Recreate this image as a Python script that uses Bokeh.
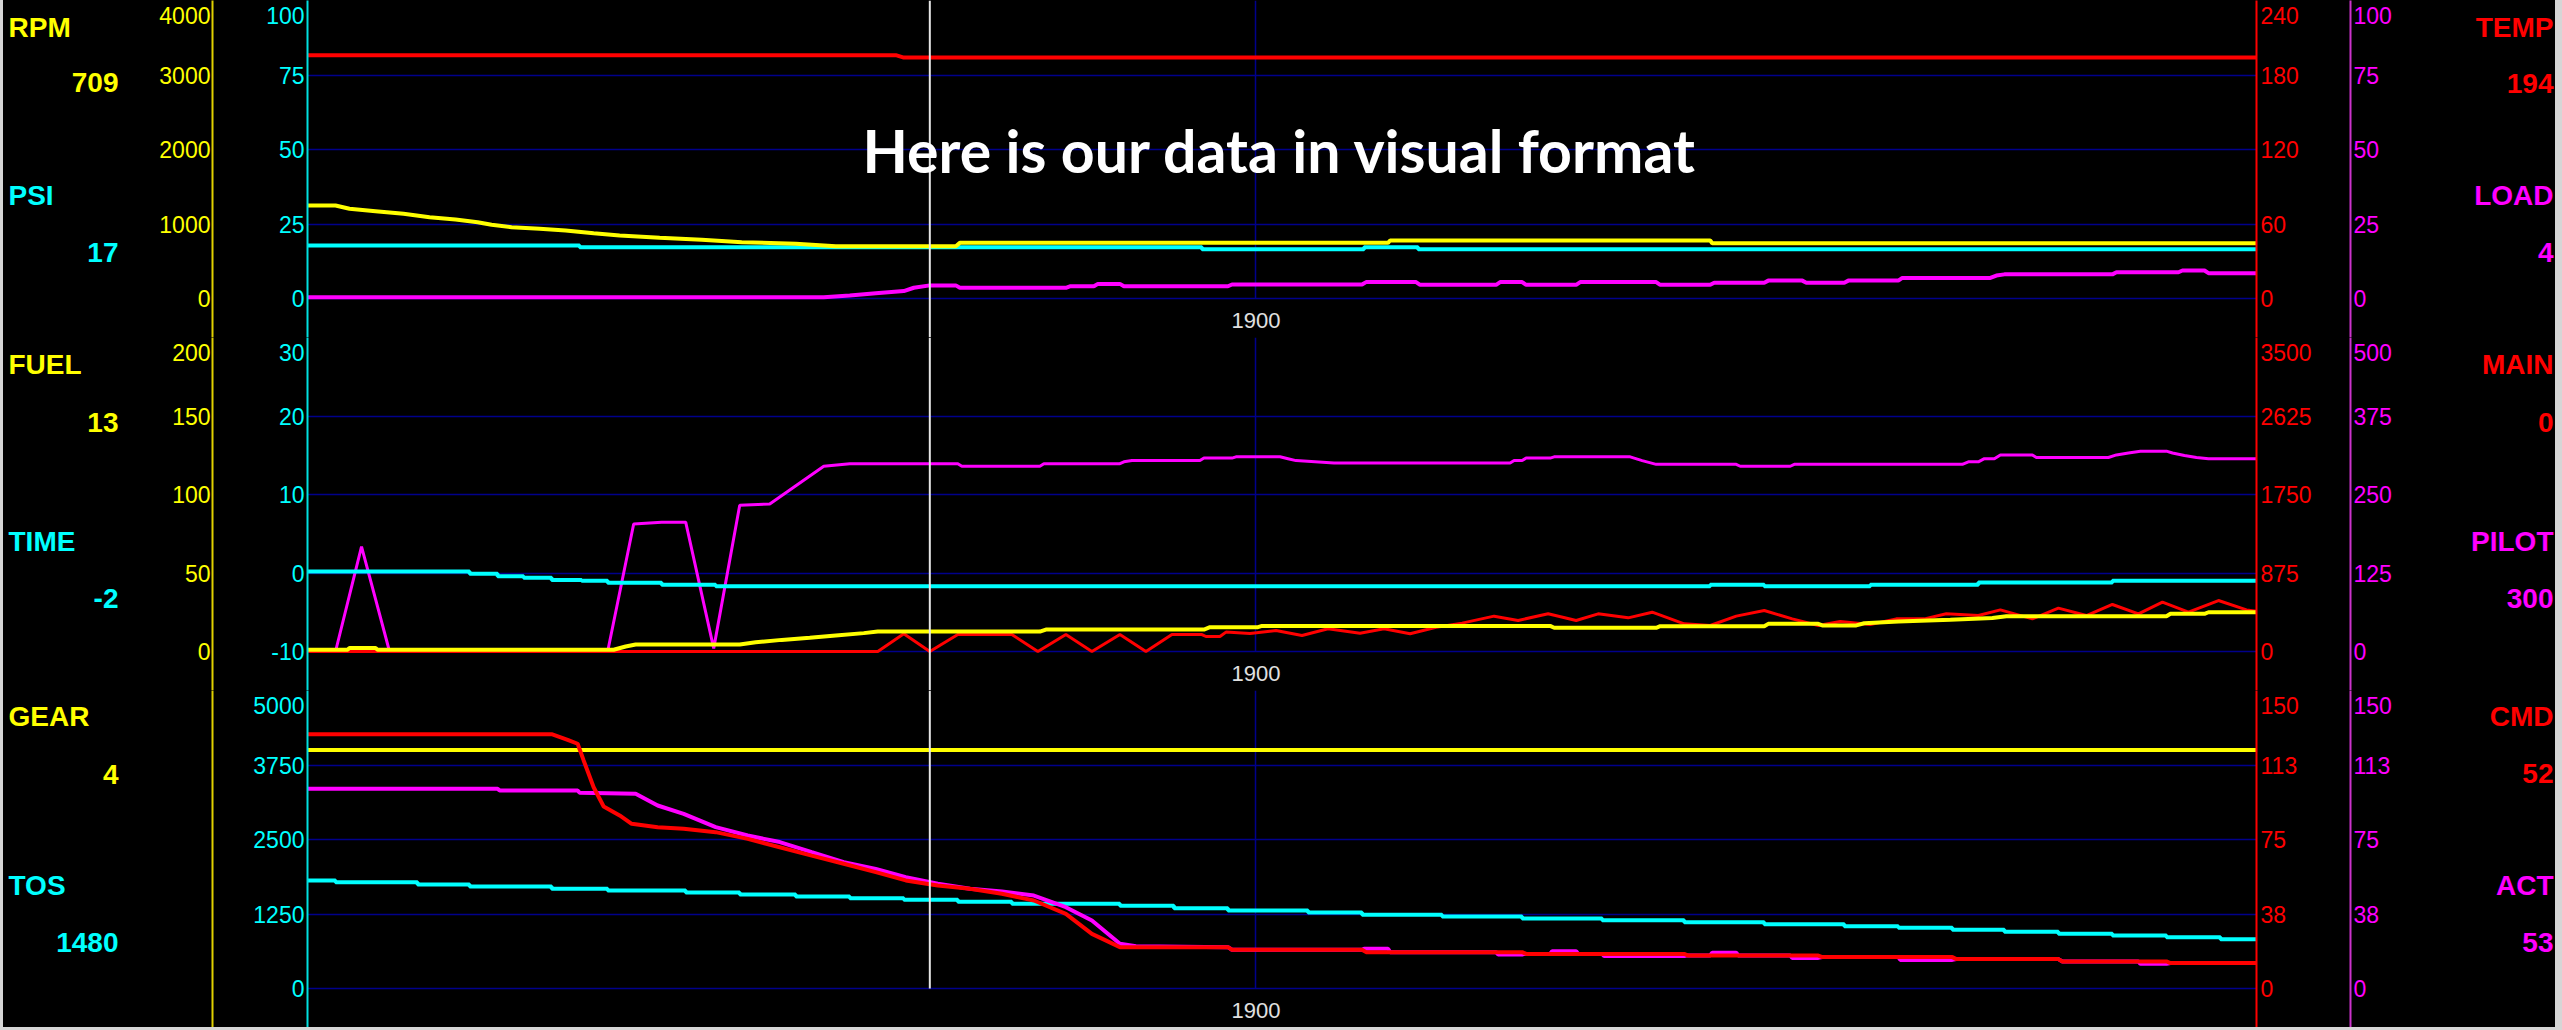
from bokeh.plotting import figure
from bokeh.models import Range1d, LinearAxis, FixedTicker, Span, Label, Grid, ColumnDataSource
from bokeh.layouts import row, column
from bokeh.embed import file_html
from bokeh.resources import INLINE
from bokeh.core.properties import value

# ------------------------------------------------------------------ data
X_START, X_END = 1426, 2400
X_TICKS = [1900]
CURSOR_X = 1737
TITLE = "Here is our data in visual format"
TITLE_X, TITLE_Y = 1912, 49.5

# panel 1 : PSI (cyan, left inner), RPM (yellow, left outer), TEMP (red), LOAD (magenta)
PSI_TICKS = [0, 25, 50, 75, 100]
PSI_LABELS = ["0", "25", "50", "75", "100"]
RPM_TICKS = [0, 1000, 2000, 3000, 4000]
RPM_LABELS = ["0", "1000", "2000", "3000", "4000"]
TEMP_TICKS = [0, 60, 120, 180, 240]
TEMP_LABELS = ["0", "60", "120", "180", "240"]
LOAD_TICKS = [0, 25, 50, 75, 100]
LOAD_LABELS = ["0", "25", "50", "75", "100"]

TEMP_X = [1426, 1720, 1724, 2400]
TEMP_Y = [196, 196, 194, 194]
RPM_X = [1426, 1440, 1447, 1460, 1474, 1487, 1500, 1511, 1518, 1528, 1542, 1555, 1569, 1582, 1602,
         1623, 1643, 1670, 1690, 1750, 1752, 1966, 1967, 2127, 2128, 2400]
RPM_Y = [1248, 1248, 1204, 1172, 1137, 1091, 1060, 1024, 989, 957, 935, 913, 877, 846, 815,
         788, 756, 734, 702, 702, 747, 747, 778, 778, 742, 742]
PSI_X = [1426, 1562, 1873, 1954, 1981, 2400]
PSI_Y = [17.8, 17.2, 16.5, 17.2, 16.5, 16.5]
LOAD_X = [1426, 1684, 1697, 1710, 1724, 1729, 1737, 1750, 1752, 1805, 1807, 1819, 1821, 1832, 1834,
          1886, 1888, 1953, 1955, 1980, 1982, 2020, 2022, 2033, 2035, 2060, 2062, 2100, 2102, 2127,
          2129, 2154, 2156, 2173, 2175, 2194, 2196, 2221, 2223, 2267, 2270, 2274, 2328, 2330, 2361,
          2363, 2374, 2376, 2400]
LOAD_Y = [0.4, 0.4, 1.0, 1.8, 2.5, 3.6, 4.4, 4.4, 3.6, 3.6, 4.1, 4.1, 4.9, 4.9, 4.1,
          4.1, 4.7, 4.7, 5.5, 5.5, 4.6, 4.6, 5.5, 5.5, 4.6, 4.6, 5.5, 5.5, 4.6, 4.6,
          5.3, 5.3, 6.0, 6.0, 5.3, 5.3, 6.0, 6.0, 6.9, 6.9, 7.7, 8.1, 8.1, 8.8, 8.8,
          9.4, 9.4, 8.5, 8.5]

# panel 2 : TIME (cyan), FUEL (yellow), MAIN (red), PILOT (magenta)
TIME_TICKS = [-10, 0, 10, 20, 30]
TIME_LABELS = ["-10", "0", "10", "20", "30"]
FUEL_TICKS = [0, 50, 100, 150, 200]
FUEL_LABELS = ["0", "50", "100", "150", "200"]
MAIN_TICKS = [0, 875, 1750, 2625, 3500]
MAIN_LABELS = ["0", "875", "1750", "2625", "3500"]
PILOT_TICKS = [0, 125, 250, 375, 500]
PILOT_LABELS = ["0", "125", "250", "375", "500"]

TIME_X = [1426, 1507, 1521, 1534, 1548, 1563, 1576, 1603, 1630, 2127, 2154, 2207, 2261, 2328, 2400]
TIME_Y = [0.2, -0.1, -0.4, -0.6, -0.9, -1.0, -1.25, -1.5, -1.7, -1.5, -1.7, -1.5, -1.2, -1.0, -1.0]
FUEL_X = [1426, 1446, 1447, 1460, 1461, 1579, 1585, 1590, 1642, 1650, 1663, 1677, 1690, 1704, 1711,
          1792, 1795, 1874, 1877, 1901, 1903, 2047, 2049, 2100, 2102, 2154, 2156, 2181, 2183, 2200,
          2204, 2221, 2247, 2268, 2275, 2355, 2357, 2374, 2376, 2400]
FUEL_Y = [1.1, 1.1, 2.3, 2.3, 1.1, 1.1, 3.2, 4.5, 4.5, 5.9, 7.4, 8.7, 10.2, 11.7, 12.7,
          12.7, 14.0, 14.0, 15.5, 15.5, 16.3, 16.3, 15.1, 15.1, 16.1, 16.1, 17.6, 17.6, 16.6, 16.6,
          18.0, 19.1, 20.2, 21.4, 22.5, 22.5, 24.0, 24.0, 25.0, 25.0]
MAIN_X = [1426, 1711, 1724, 1737, 1751, 1778, 1791, 1805, 1818, 1832, 1845, 1858, 1873, 1875, 1882,
          1885, 1897, 1910, 1923, 1936, 1952, 1964, 1977, 1990, 2003, 2019, 2031, 2046, 2060, 2071,
          2086, 2098, 2114, 2127, 2140, 2154, 2168, 2181, 2192, 2207, 2220, 2234, 2245, 2261, 2272,
          2288, 2301, 2315, 2328, 2341, 2353, 2366, 2381, 2395, 2400]
MAIN_Y = [0, 0, 197, 0, 189, 189, 0, 189, 0, 189, 0, 189, 189, 167, 167,
          216, 200, 234, 178, 253, 204, 253, 197, 271, 316, 394, 346, 420, 346, 420,
          375, 438, 308, 290, 394, 457, 364, 290, 334, 301, 364, 364, 420, 401, 464,
          364, 483, 401, 524, 420, 550, 438, 568, 464, 450]
PILOT_X = [1426, 1440, 1453, 1467, 1576, 1589, 1603, 1615, 1629, 1642, 1657, 1684, 1697, 1751, 1753,
           1792, 1794, 1832, 1834, 1838, 1872, 1874, 1888, 1890, 1912, 1916, 1920, 1939, 2027, 2029,
           2033, 2035, 2047, 2049, 2087, 2093, 2100, 2140, 2142, 2167, 2169, 2253, 2256, 2261, 2264,
           2269, 2272, 2288, 2290, 2326, 2330, 2336, 2342, 2355, 2358, 2364, 2370, 2376, 2400]
PILOT_Y = [0, 0, 167, 0, 0, 203, 206, 206, 5, 233, 235, 295, 299, 299, 295,
           295, 299, 299, 302, 304, 304, 308, 308, 310, 310, 307, 304, 300, 300, 304,
           304, 308, 308, 310, 310, 304, 298, 298, 295, 295, 298, 298, 302, 302, 307,
           307, 313, 313, 309, 309, 313, 316, 319, 319, 316, 312, 309, 307, 307]

# panel 3 : TOS (cyan), GEAR (yellow, unlabelled axis), CMD (red), ACT (magenta)
TOS_TICKS = [0, 1250, 2500, 3750, 5000]
TOS_LABELS = ["0", "1250", "2500", "3750", "5000"]
GEAR_RANGE = (0, 5)
GEAR_TICKS = []
GEAR_LABELS = []
CMD_TICKS = [0, 37.5, 75, 112.5, 150]
CMD_LABELS = ["0", "38", "75", "113", "150"]
ACT_TICKS = [0, 37.5, 75, 112.5, 150]
ACT_LABELS = ["0", "38", "75", "113", "150"]

GEAR_X = [1426, 2400]
GEAR_Y = [4, 4]
TOS_X = [1426, 1440, 1481, 1507, 1548, 1576, 1615, 1642, 1670, 1697, 1724, 1751, 1778, 1832, 1859,
         1886, 1926, 1953, 1993, 2033, 2073, 2114, 2154, 2194, 2221, 2248, 2274, 2301, 2328, 2355,
         2382, 2400]
TOS_Y = [1812, 1784, 1745, 1711, 1673, 1644, 1611, 1577, 1544, 1515, 1488, 1454, 1421, 1387, 1348,
         1309, 1275, 1236, 1208, 1174, 1146, 1113, 1079, 1045, 1018, 984, 951, 917, 889, 861,
         828, 828]
CMD_X = [1426, 1548, 1556, 1561, 1564, 1569, 1574, 1582, 1588, 1601, 1614, 1630, 1646, 1662, 1678,
         1694, 1710, 1725, 1741, 1757, 1773, 1789, 1805, 1818, 1832, 1886, 1888, 1953, 1955, 2033,
         2035, 2114, 2116, 2181, 2183, 2248, 2250, 2301, 2303, 2355, 2357, 2400]
CMD_Y = [128, 128, 125.2, 123.2, 114.8, 101.3, 91.6, 87.1, 82.9, 81.2, 80.4, 78.7, 75.3, 71.1, 66.9,
         62.8, 58.6, 54.4, 51.8, 50.2, 47.7, 44.3, 37.6, 27.5, 20.8, 20.8, 19.5, 19.5, 18.3, 18.3,
         17.4, 17.4, 16.6, 16.6, 15.8, 15.8, 14.8, 14.8, 13.6, 13.6, 12.8, 12.8]
ACT_X = [1426, 1521, 1522, 1561, 1562, 1590, 1601, 1614, 1630, 1646, 1662, 1678, 1694, 1710, 1725,
         1741, 1757, 1773, 1789, 1805, 1818, 1832, 1840, 1886, 1888, 1953, 1954, 1966, 1967, 2020,
         2021, 2033, 2034, 2047, 2048, 2060, 2061, 2073, 2074, 2114, 2115, 2127, 2128, 2140, 2141,
         2167, 2168, 2181, 2183, 2221, 2222, 2248, 2250, 2301, 2303, 2341, 2342, 2355, 2357, 2400]
ACT_Y = [100.5, 100.5, 99.7, 99.7, 98.5, 98.0, 92.1, 87.9, 81.2, 77.0, 73.7, 68.6, 63.6, 60.2, 56.0,
         52.7, 50.2, 48.8, 46.8, 40.9, 34.2, 22.5, 21.3, 20.8, 19.5, 19.5, 20.0, 20.0, 18.3, 18.3,
         17.1, 17.1, 17.4, 17.4, 18.8, 18.8, 17.4, 17.4, 16.3, 16.3, 16.6, 16.6, 18.0, 18.0, 16.6,
         16.6, 15.4, 15.4, 15.8, 15.8, 14.4, 14.4, 14.8, 14.8, 13.6, 13.6, 12.4, 12.4, 12.8, 12.8]

# side read-outs (name, current value)
LEFT_NAMES = ["RPM", "PSI", "FUEL", "TIME", "GEAR", "TOS"]
LEFT_VALUES = ["709", "17", "13", "-2", "4", "1480"]
RIGHT_NAMES = ["TEMP", "LOAD", "MAIN", "PILOT", "CMD", "ACT"]
RIGHT_VALUES = ["194", "4", "0", "300", "52", "53"]

# ------------------------------------------------------------------ style / layout
FONT = "Liberation Sans"
TITLE_FONT = "Lato"
YELLOW, CYAN, RED, MAGENTA = "#ffff00", "#00ffff", "#ff0000", "#ff00ff"
YELLOW_AX, CYAN_AX, RED_AX, MAGENTA_AX = "#e0d000", "#00e0e0", "#ff0000", "#cc33cc"
GRID_C = "#00008b"
CURSOR_C = "#e6e6e6"
XLAB_C = "#e0e0e0"
PAGE_BG = "#d6d6d6"
LW = 4
TICK_FS = 23
TOP_DROP = 15          # top tick label sits this far below its gridline (as in the source display)

REF_H = 1027
PANEL_H = [337, 353, 337]
PANEL_GEO = [(0, 0, 298, 337), (337, 337, 651, 690), (690, 690, 988, 1027)]
LEFT_X0 = 3
LEFT_W, MAIN_W, RIGHT_W = 152, 2250, 150
FRAME_L, FRAME_R = 152, 149
CYAN_W, RED_W = 89, 88
NAME_BASE_L = [27, 195, 364, 541, 716, 885]
VALUE_BASE_L = [82, 252, 422, 598, 774, 942]
NAME_BASE_R = [27, 195, 364, 541, 716, 885]
VALUE_BASE_R = [83, 252, 422, 598, 773, 942]
BLACK_STYLE = {"background-color": "#000000"}

ADV = {"-": 0.333}


def text_w(s, fs):
    return sum(ADV.get(c, 0.556) for c in s) * fs


def aligned(lo, hi, geo):
    ftop, hipx, lopx, fbot = geo
    per = (hi - lo) / (lopx - hipx)
    return Range1d(start=lo - (fbot - lopx) * per, end=hi + (hipx - ftop) * per)


def spec(lo, hi, ticks, labels):
    return dict(lo=lo, hi=hi, ticks=ticks, labels=labels)


def setup_axis(ax, sp, geo, line_color, text_color, standoff, target):
    per = (sp["hi"] - sp["lo"]) / (geo[2] - geo[1])
    vals = [float(t) for t in sp["ticks"]]
    if vals:
        vals[-1] = round(vals[-1] - TOP_DROP * per, 2)
    ax.ticker = FixedTicker(ticks=vals)
    ax.major_label_overrides = {v: t for v, t in zip(vals, sp["labels"])}
    ax.axis_line_color = line_color
    ax.axis_line_width = 2
    ax.major_tick_line_color = None
    ax.minor_tick_line_color = None
    ax.major_tick_out = 0
    ax.major_tick_in = 0
    ax.minor_tick_out = 0
    ax.minor_tick_in = 0
    ax.major_label_standoff = standoff
    ax.major_label_text_color = text_color
    ax.major_label_text_font = FONT
    ax.major_label_text_font_size = f"{TICK_FS}px"
    if target is not None:
        w = max([text_w(t, TICK_FS) for t in sp["labels"]] + [0])
        pad = target - standoff - w - 1
        ax.axis_label = " "
        ax.axis_label_text_font_size = "1px"
        ax.axis_label_standoff = int(round(pad))


XR = Range1d(X_START, X_END)


def make_panel(h, geo, cy, ye, rd, mg):
    p = figure(width=MAIN_W, height=h, x_range=XR, y_range=aligned(cy["lo"], cy["hi"], geo),
               toolbar_location=None, output_backend="svg",
               min_border_left=FRAME_L, min_border_right=FRAME_R,
               min_border_top=0, min_border_bottom=0,
               background_fill_color="black", border_fill_color="black",
               outline_line_color=None, styles=BLACK_STYLE)
    p.grid.visible = False
    p.extra_y_ranges = {"ye": aligned(ye["lo"], ye["hi"], geo),
                        "rd": aligned(rd["lo"], rd["hi"], geo),
                        "mg": aligned(mg["lo"], mg["hi"], geo)}
    setup_axis(p.yaxis[0], cy, geo, CYAN_AX, CYAN, 3, CYAN_W)
    a = LinearAxis(y_range_name="ye")
    setup_axis(a, ye, geo, YELLOW_AX, YELLOW, 2, None)
    p.add_layout(a, "left")
    a = LinearAxis(y_range_name="rd")
    setup_axis(a, rd, geo, RED_AX, RED, 4, RED_W)
    p.add_layout(a, "right")
    a = LinearAxis(y_range_name="mg")
    setup_axis(a, mg, geo, MAGENTA_AX, MAGENTA, 3, None)
    p.add_layout(a, "right")

    xa = p.xaxis[0]
    xa.ticker = FixedTicker(ticks=X_TICKS)
    xa.fixed_location = cy["lo"]
    xa.axis_line_color = None
    xa.major_tick_line_color = None
    xa.minor_tick_line_color = None
    xa.major_tick_out = 0
    xa.minor_tick_out = 0
    xa.major_label_standoff = 14
    xa.major_label_text_color = XLAB_C
    xa.major_label_text_font = FONT
    xa.major_label_text_font_size = "22px"

    p.add_layout(Grid(dimension=1, ticker=FixedTicker(ticks=cy["ticks"]),
                      grid_line_color=GRID_C, grid_line_width=1.5))
    p.add_layout(Grid(dimension=0, ticker=FixedTicker(ticks=X_TICKS),
                      cross_bounds=(cy["lo"], cy["hi"]),
                      grid_line_color=GRID_C, grid_line_width=1.5))
    return p


# ---- panel 1
p1 = make_panel(PANEL_H[0], PANEL_GEO[0],
                spec(0, 100, PSI_TICKS, PSI_LABELS), spec(0, 4000, RPM_TICKS, RPM_LABELS),
                spec(0, 240, TEMP_TICKS, TEMP_LABELS), spec(0, 100, LOAD_TICKS, LOAD_LABELS))
p1.line(LOAD_X, LOAD_Y, y_range_name="mg", line_color=MAGENTA, line_width=LW)
p1.step(PSI_X, PSI_Y, mode="after", line_color=CYAN, line_width=LW)
p1.line(RPM_X, RPM_Y, y_range_name="ye", line_color=YELLOW, line_width=LW)
p1.line(TEMP_X, TEMP_Y, y_range_name="rd", line_color=RED, line_width=LW)
p1.add_layout(Span(location=CURSOR_X, dimension="height", line_color=CURSOR_C, line_width=2))
p1.add_layout(Label(x=TITLE_X, y=TITLE_Y, text=TITLE, text_color="white", text_font=TITLE_FONT,
                    text_font_style="bold", text_font_size="59px", text_align="center",
                    text_baseline="alphabetic"))

# ---- panel 2
p2 = make_panel(PANEL_H[1], PANEL_GEO[1],
                spec(-10, 30, TIME_TICKS, TIME_LABELS), spec(0, 200, FUEL_TICKS, FUEL_LABELS),
                spec(0, 3500, MAIN_TICKS, MAIN_LABELS), spec(0, 500, PILOT_TICKS, PILOT_LABELS))
p2.line(PILOT_X, PILOT_Y, y_range_name="mg", line_color=MAGENTA, line_width=3)
p2.line(MAIN_X, MAIN_Y, y_range_name="rd", line_color=RED, line_width=3)
p2.line(FUEL_X, FUEL_Y, y_range_name="ye", line_color=YELLOW, line_width=LW)
p2.step(TIME_X, TIME_Y, mode="after", line_color=CYAN, line_width=LW)
p2.add_layout(Span(location=CURSOR_X, dimension="height", line_color=CURSOR_C, line_width=2))

# ---- panel 3
p3 = make_panel(PANEL_H[2], PANEL_GEO[2],
                spec(0, 5000, TOS_TICKS, TOS_LABELS),
                spec(GEAR_RANGE[0], GEAR_RANGE[1], GEAR_TICKS, GEAR_LABELS),
                spec(0, 150, CMD_TICKS, CMD_LABELS), spec(0, 150, ACT_TICKS, ACT_LABELS))
p3.step(TOS_X, TOS_Y, mode="after", line_color=CYAN, line_width=LW)
p3.line(GEAR_X, GEAR_Y, y_range_name="ye", line_color=YELLOW, line_width=LW)
p3.line(ACT_X, ACT_Y, y_range_name="mg", line_color=MAGENTA, line_width=LW)
p3.line(CMD_X, CMD_Y, y_range_name="rd", line_color=RED, line_width=LW)
p3.segment(x0=[CURSOR_X], y0=[TOS_TICKS[0]], x1=[CURSOR_X], y1=[TOS_TICKS[-1]],
           line_color=CURSOR_C, line_width=2)


# ---- side read-out columns
def side_fig(x0, w):
    f = figure(width=w, height=REF_H, x_range=Range1d(x0, x0 + w), y_range=Range1d(REF_H, 0),
               toolbar_location=None, output_backend="svg",
               x_axis_location=None, y_axis_location=None, min_border=0,
               background_fill_color="black", border_fill_color="black",
               outline_line_color=None, styles=BLACK_STYLE)
    f.grid.visible = False
    return f


LEFT_COLORS = [YELLOW, CYAN] * 3
RIGHT_COLORS = [RED, MAGENTA] * 3

lf = side_fig(LEFT_X0, LEFT_W)
lf.text(x="x", y="y", text="t", text_color="c", source=ColumnDataSource(
    dict(x=[8] * 6, y=NAME_BASE_L, t=LEFT_NAMES, c=LEFT_COLORS)),
    text_font=value(FONT), text_font_style="bold", text_font_size="28px",
    text_align="left", text_baseline="alphabetic")
lf.text(x="x", y="y", text="t", text_color="c", source=ColumnDataSource(
    dict(x=[118] * 6, y=VALUE_BASE_L, t=LEFT_VALUES, c=LEFT_COLORS)),
    text_font=value(FONT), text_font_style="bold", text_font_size="28px",
    text_align="right", text_baseline="alphabetic")

rf = side_fig(0, RIGHT_W)
rf.text(x="x", y="y", text="t", text_color="c", source=ColumnDataSource(
    dict(x=[148] * 6, y=NAME_BASE_R, t=RIGHT_NAMES, c=RIGHT_COLORS)),
    text_font=value(FONT), text_font_style="bold", text_font_size="28px",
    text_align="right", text_baseline="alphabetic")
rf.text(x="x", y="y", text="t", text_color="c", source=ColumnDataSource(
    dict(x=[148] * 6, y=VALUE_BASE_R, t=RIGHT_VALUES, c=RIGHT_COLORS)),
    text_font=value(FONT), text_font_style="bold", text_font_size="28px",
    text_align="right", text_baseline="alphabetic")

layout = row(lf, column(p1, p2, p3, styles=BLACK_STYLE), rf, styles=BLACK_STYLE)
html = file_html(layout, INLINE)
html = html.replace(
    "</head>",
    "<style>html, body { background-color: %s !important; } "
    "body { margin: 0 0 0 %dpx !important; }</style></head>" % (PAGE_BG, LEFT_X0), 1)
open("out.html", "w").write(html)
